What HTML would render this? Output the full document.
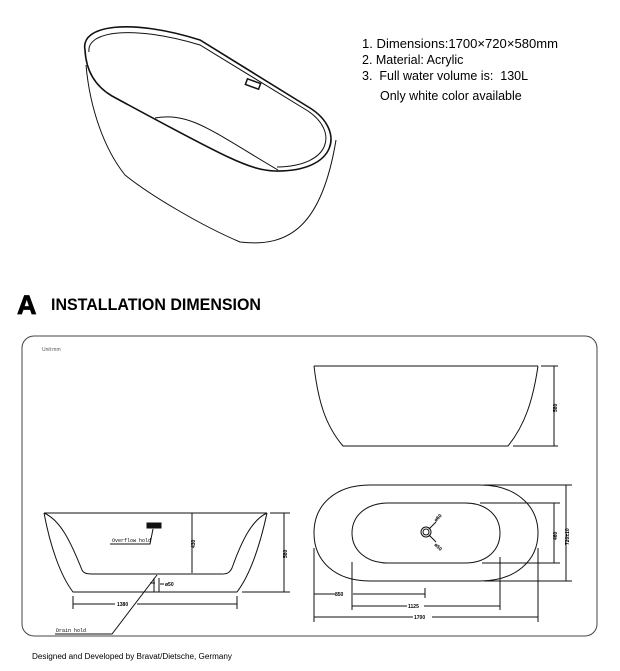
<!DOCTYPE html><html><head><style>body{margin:0;background:#fff;width:620px;height:666px;overflow:hidden;font-family:"Liberation Sans",sans-serif}</style></head><body>
<svg width="620" height="666" viewBox="0 0 620 666" xmlns="http://www.w3.org/2000/svg" font-family="Liberation Sans, sans-serif">
<g fill="none" stroke="#111" stroke-width="1">
<path d="M85,50 C80,25 130,18 200,40 L310,108 C345,130 338,172 275,171 C250,170 230,160 112,96 C95,86 86,70 85,50Z" stroke-width="1.6"/>
<path d="M89,52 C86,32 130,24 200,45 L308,111 C338,131 332,166 277,167" />
<path d="M86,65 C90,110 105,150 125,175 C150,195 200,225 240,242 C290,248 322,225 336,140"/>
<path d="M155,118 C190,112 210,130 278,170"/>
<rect x="246" y="81" width="14" height="6" transform="rotate(20 253 84)" stroke-width="1.5"/>
<rect x="22" y="336" width="575" height="300" rx="12" stroke="#444"/>
<path d="M44,513 L267,513"/>
<path d="M44,513 C50,545 60,575 73,592 L237,592 C250,575 260,545 267,513"/>
<path d="M44,513 C60,520 70,540 82,570 C84,574 88,574 95,574 L222,574 C228,574 230,572 232,568 C242,540 252,520 267,513"/>
<path d="M192,513 V573 M284,513 V592 M270,513 H290 M242,592 H290 M73,596 V609 M237,596 V609 M73,604 H115 M137,604 H237"/>
<path d="M110,544 H150 L153,529 M55,634 H112 L157,575 M154,578 V592 M159,578 V592 M150,583 H155 M160,584 H164"/>
<rect x="147" y="523" width="14" height="5" fill="#111"/>
<path d="M314,366 H538 M314,366 C318,400 325,425 343,446 H508 C525,425 533,400 538,366 M541,366 H558 M513,446 H558 M554,366 V446"/>
<path d="M370,485 H480 C515,485 538,505 538,533 C538,561 515,581 480,581 H370 C335,581 314,561 314,533 C314,505 335,485 370,485Z"/>
<path d="M388,503 H465 C487,503 500,516 500,533 C500,550 487,563 465,563 H388 C366,563 352,550 352,533 C352,516 366,503 388,503Z"/>
<circle cx="426" cy="532" r="5"/><circle cx="426" cy="532" r="3"/>
<path d="M429,529 L436,522 M429,535 L436,542"/>
<path d="M480,503 H560 M482,563 H560 M484,485 H572 M484,581 H572 M554,503 V563 M566,485 V581"/>
<path d="M314,548 V622 M352,562 V610 M500,557 V610 M538,548 V622 M425,588 V598 M314,594 H335 M353,594 H425 M352,606 H407 M424,606 H500 M314,617 H413 M432,617 H538"/>
</g>
<g font-size="12.5" fill="#000">
<text x="362" y="48" textLength="196" lengthAdjust="spacingAndGlyphs">1.  Dimensions:1700×720×580mm</text>
<text x="362" y="64">2.  Material: Acrylic</text>
<text x="362" y="80" xml:space="preserve">3.  Full water volume is:  130L</text>
<text x="380" y="100">Only white color available</text>
</g>
<text x="17" y="314" font-size="27" font-weight="bold" stroke="#000" stroke-width="0.8">A</text>
<text x="51" y="310" font-size="16.5" font-weight="bold" textLength="210" lengthAdjust="spacingAndGlyphs">INSTALLATION DIMENSION</text>
<g font-size="5" font-weight="bold" fill="#000">
<text x="42" y="351" font-weight="normal" fill="#555">Unit:mm</text>
<text x="112" y="542" font-family="Liberation Mono" font-weight="normal">Overflow hold</text>
<text x="56" y="632" font-family="Liberation Mono" font-weight="normal">Drain hold</text>
<text x="165" y="586">ø50</text>
<text x="117" y="606">1380</text>
<text x="335" y="596">850</text>
<text x="408" y="608">1125</text>
<text x="414" y="619">1700</text>
<text transform="translate(195,548) rotate(-90)">430</text>
<text transform="translate(287,558) rotate(-90)">580</text>
<text transform="translate(557,412) rotate(-90)">580</text>
<text transform="translate(557,540) rotate(-90)">460</text>
<text transform="translate(569,545) rotate(-90)">720±10</text>
<text transform="translate(436,522) rotate(-45)">ø60</text>
<text transform="translate(434,545) rotate(45)">ø50</text>
</g>
<text x="32" y="659" font-size="7.8" textLength="200" lengthAdjust="spacingAndGlyphs">Designed and Developed by Bravat/Dietsche, Germany</text>
</svg></body></html>
